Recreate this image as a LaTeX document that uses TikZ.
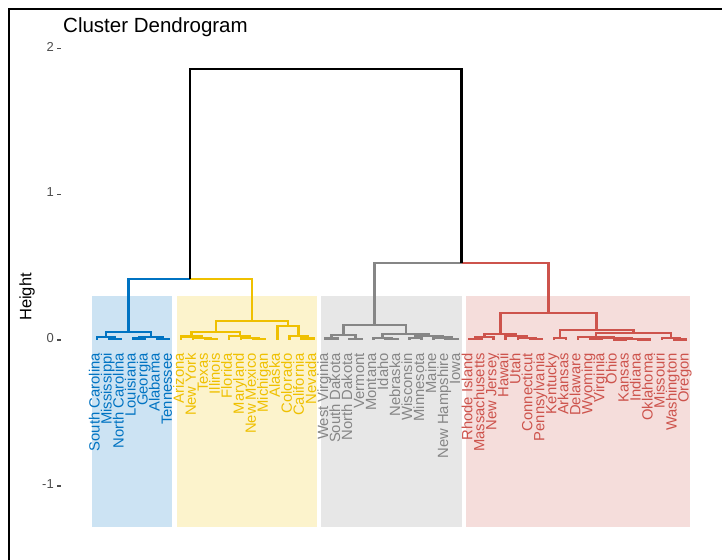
\documentclass[tikz,border=0pt]{standalone}
\usepackage{fontspec}
\setmainfont{Liberation Sans}
\usetikzlibrary{calc}
\definecolor{jblue}{HTML}{0073C2}
\definecolor{jyel}{HTML}{EFC000}
\definecolor{jgray}{HTML}{868686}
\definecolor{jred}{HTML}{CD534C}
\definecolor{tickgray}{HTML}{4D4D4D}
% define merge point #1 between #2 and #3 at height y=#4
\newcommand\mkpt[4]{%
  \path ($(#2)!0.5!(#3)$) coordinate (tmpm);
  \coordinate (#1) at (tmpm |- 0,#4);
}
\newcommand\mrg[4]{%
  \mkpt{#1}{#2}{#3}{#4}%
  \draw (#1) -| (#2);
  \draw (#1) -| (#3);
}
\begin{document}
\begin{tikzpicture}[x=1pt,y=-1pt,
  leaflab/.style={rotate=90,anchor=mid east,inner sep=0pt,font=\fontsize{14.8}{15}\selectfont},
  ticklab/.style={anchor=mid east,inner sep=0pt,text=tickgray,font=\fontsize{13}{13}\selectfont},
  tickmark/.style={draw=tickgray,line width=1.6pt},
  branch/.style={line width=2.4pt}]
\useasboundingbox (0,0) rectangle (722,559);
\fill[white] (0,0) rectangle (722,559);
% frame
\draw[line width=2pt] (9,560) -- (9,9) -- (723,9);
% cluster rectangles
\fill[jblue!20] (92,296) rectangle (172,527);
\fill[jyel!20] (177,296) rectangle (317,527);
\fill[jgray!20] (321,296) rectangle (462,527);
\fill[jred!20] (466,296) rectangle (690,527);
% title and axis
\node[anchor=base west,inner sep=0pt,font=\fontsize{20.5}{21}\selectfont] (title) at (63,33) {Cluster Dendrogram};
\node[rotate=90,inner sep=0pt,font=\fontsize{16.5}{17}\selectfont] (ylab) at (27,297) {Height};
\foreach \v/\yy in {2/48.6,1/194.3,0/340,-1/485.7}{
  \node[ticklab] (t\v) at (54,\yy) {\v};
  \draw[tickmark] (57,\yy) -- (61,\yy);
}
% leaves
\foreach \s [count=\i from 0] in {South Carolina,Mississippi,North Carolina,Louisiana,Georgia,Alabama,Tennessee}{
  \coordinate (L\i) at ({97+12.02*\i},340);
  \node[leaflab,text=jblue] (lab\i) at ({97+12.02*\i},353) {\s};}
\foreach \s [count=\i from 7] in {Arizona,New York,Texas,Illinois,Florida,Maryland,New Mexico,Michigan,Alaska,Colorado,California,Nevada}{
  \coordinate (L\i) at ({97+12.02*\i},340);
  \node[leaflab,text=jyel] (lab\i) at ({97+12.02*\i},353) {\s};}
\foreach \s [count=\i from 19] in {West Virginia,South Dakota,North Dakota,Vermont,Montana,Idaho,Nebraska,Wisconsin,Minnesota,Maine,New Hampshire,Iowa}{
  \coordinate (L\i) at ({97+12.02*\i},340);
  \node[leaflab,text=jgray] (lab\i) at ({97+12.02*\i},353) {\s};}
\foreach \s [count=\i from 31] in {Rhode Island,Massachusetts,New Jersey,Hawaii,Utah,Connecticut,Pennsylvania,Kentucky,Arkansas,Delaware,Wyoming,Virginia,Ohio,Kansas,Indiana,Oklahoma,Missouri,Washington,Oregon}{
  \coordinate (L\i) at ({97+12.02*\i},340);
  \node[leaflab,text=jred] (lab\i) at ({97+12.02*\i},353) {\s};}
% blue cluster
\begin{scope}[branch,color=jblue]
\mrg{b1}{L1}{L2}{339}
\mrg{b2}{L0}{b1}{337}
\mrg{b3}{L3}{L4}{338.5}
\mrg{b4}{L5}{L6}{339}
\mrg{b5}{b3}{b4}{337}
\mrg{broot}{b2}{b5}{332}
\end{scope}
% yellow cluster
\begin{scope}[branch,color=jyel]
\mrg{y1}{L9}{L10}{339}
\mrg{y2}{L8}{y1}{338}
\mrg{y3}{L7}{y2}{336.5}
\mrg{y4}{L13}{L14}{339}
\mrg{y5}{L12}{y4}{338}
\mrg{y6}{L11}{y5}{336}
\mrg{y7}{y3}{y6}{332}
\mrg{y8}{L17}{L18}{338.5}
\mrg{y9}{L16}{y8}{336}
\mrg{y10}{L15}{y9}{326}
\mrg{yroot}{y7}{y10}{321}
\end{scope}
% gray cluster
\begin{scope}[branch,color=jgray]
\mrg{g1}{L19}{L20}{338.5}
\mrg{g2}{L21}{L22}{339}
\mrg{g3}{g1}{g2}{335}
\mrg{g4}{L24}{L25}{339}
\mrg{g5}{L23}{g4}{338}
\mrg{g6}{L26}{L27}{338}
\mrg{g7}{L29}{L30}{339}
\mrg{g8}{L28}{g7}{337.5}
\mrg{g9}{g6}{g8}{336}
\mrg{g10}{g5}{g9}{334}
\mrg{groot}{g3}{g10}{325}
\end{scope}
% red cluster
\begin{scope}[branch,color=jred]
\mrg{r1}{L31}{L32}{339}
\mrg{r2}{r1}{L33}{337}
\mrg{r3}{L36}{L37}{339}
\mrg{r4}{L35}{r3}{338}
\mrg{r5}{L34}{r4}{336}
\mrg{r6}{r2}{r5}{334}
\mrg{r7}{L38}{L39}{338}
\mrg{r8}{L41}{L42}{339}
\mrg{r9}{L43}{L44}{339.5}
\mrg{r10}{L45}{L46}{339.5}
\mrg{r11}{r9}{r10}{339}
\mrg{r12}{r8}{r11}{338}
\mrg{r13}{L40}{r12}{337}
\mrg{r14}{L48}{L49}{339.5}
\mrg{r15}{L47}{r14}{338}
\mrg{r16}{r13}{r15}{333}
\mrg{r17}{r7}{r16}{330}
\mrg{rroot}{r6}{r17}{313}
\end{scope}
% upper merges
\begin{scope}[branch]
\mkpt{bb}{broot}{yroot}{279}
\draw[jblue] (bb) -| (broot);
\draw[jyel] (bb) -| (yroot);
\mkpt{gr}{groot}{rroot}{263}
\draw[jgray] (gr) -| (groot);
\draw[jred] (gr) -| (rroot);
\mkpt{top}{bb}{gr}{69}
\draw[black] (top) -| (bb);
\draw[black] (top) -| (gr);
\end{scope}
\end{tikzpicture}
\end{document}
